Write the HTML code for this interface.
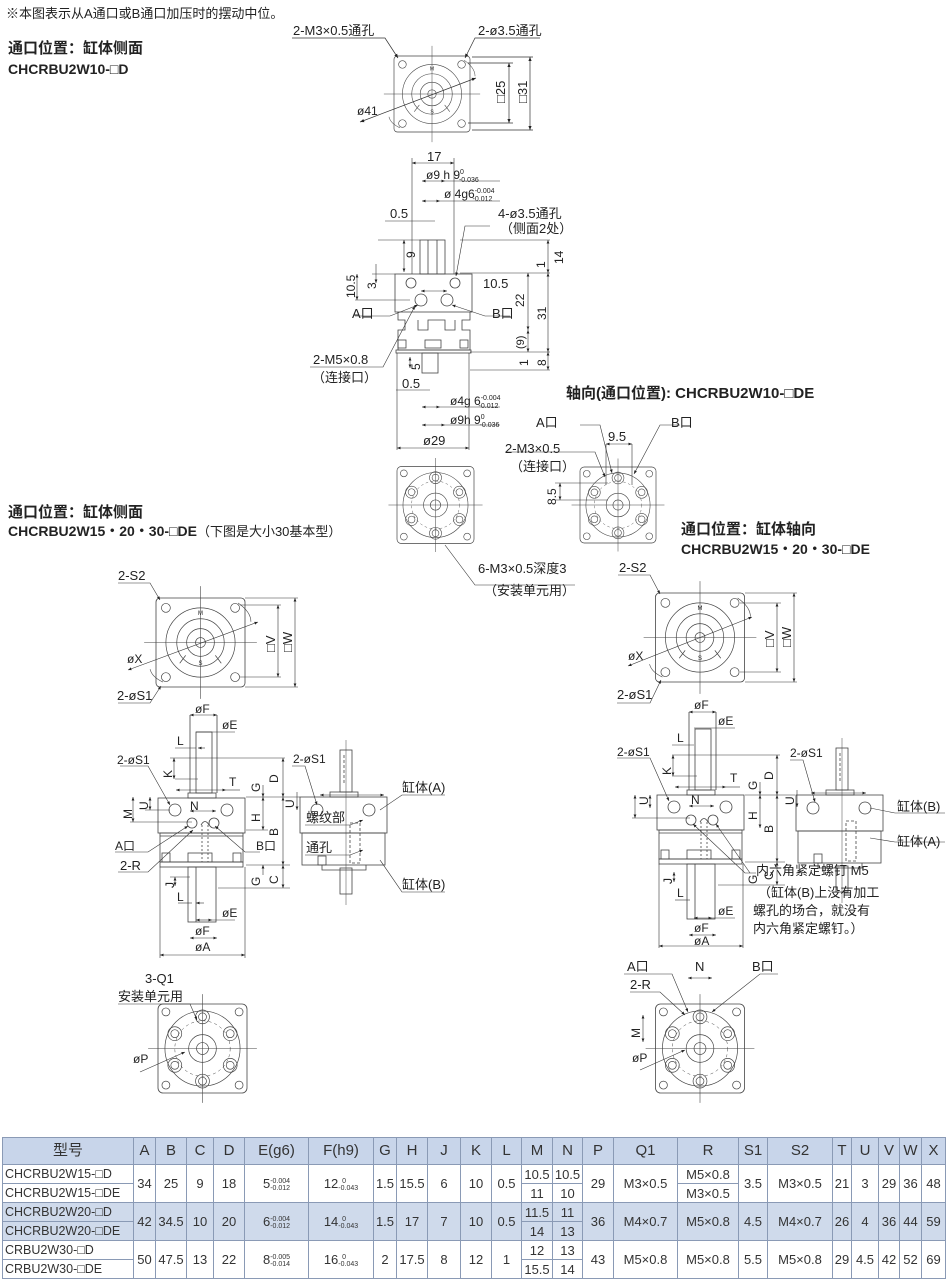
<!DOCTYPE html>
<html><head><meta charset="utf-8">
<style>
html,body{margin:0;padding:0;background:#fff;}
body{width:950px;height:1286px;position:relative;overflow:hidden;font-family:"Liberation Sans","Noto Sans CJK SC",sans-serif;color:#222;}
svg{position:absolute;left:0;top:0;}
svg text{font-family:"Liberation Sans","Noto Sans CJK SC",sans-serif;fill:#222;}
.b{font-weight:bold;}
table{position:absolute;left:2px;top:1137px;border-collapse:collapse;font-size:13px;color:#333;table-layout:fixed;}
td{border:1px solid #8a9ab5;text-align:center;padding:0;height:18px;line-height:17px;white-space:nowrap;overflow:hidden;}
tr.h td{height:26px;line-height:24px;background:#c8d5ea;font-size:15px;}
tr.g td{background:#cfdaeb;}
td.m{text-align:left;padding-left:2px;font-size:12.5px;}
.f{display:inline-block;vertical-align:middle;font-size:7px;line-height:7px;text-align:left;}
</style></head><body>
<svg width="950" height="1286" viewBox="0 0 950 1286">
<defs>
<marker id="a" viewBox="0 0 10 10" refX="10" refY="5" markerWidth="6" markerHeight="6" orient="auto-start-reverse"><path d="M0,1L10,5L0,9z" fill="#222"/></marker>
<symbol id="top" viewBox="0 0 90 90" overflow="visible">
 <rect x="0" y="0" width="90" height="90" rx="4" fill="none" stroke="#444" stroke-width="0.8"/>
 <line x1="45" y1="-12" x2="45" y2="102" stroke="#444" stroke-width="0.6"/>
 <line x1="-12" y1="45" x2="102" y2="45" stroke="#444" stroke-width="0.6"/>
 <circle cx="45" cy="45" r="35" fill="none" stroke="#444" stroke-width="0.7"/>
 <circle cx="45" cy="45" r="24" fill="none" stroke="#444" stroke-width="0.7"/>
 <circle cx="45" cy="45" r="14" fill="none" stroke="#444" stroke-width="0.7"/>
 <circle cx="45" cy="45" r="5" fill="none" stroke="#444" stroke-width="0.7"/>
 <path d="M30,58 L24,66 M60,58 L66,66" stroke="#444" stroke-width="0.7"/>
 <circle cx="10" cy="10" r="4.5" fill="none" stroke="#444" stroke-width="0.7"/>
 <circle cx="80" cy="10" r="4.5" fill="none" stroke="#444" stroke-width="0.7"/>
 <circle cx="10" cy="80" r="4.5" fill="none" stroke="#444" stroke-width="0.7"/>
 <circle cx="80" cy="80" r="4.5" fill="none" stroke="#444" stroke-width="0.7"/>
 <text x="45" y="17" font-size="6" text-anchor="middle">M</text>
 <text x="45" y="68" font-size="6" text-anchor="middle">S</text>
 <path d="M83,5 Q96,14 96,24" fill="none" stroke="#444" stroke-width="0.6"/>
 <path d="M7,85 Q-4,80 -6,72" fill="none" stroke="#444" stroke-width="0.6"/>
</symbol>
<symbol id="bot" viewBox="0 0 90 90" overflow="visible">
 <rect x="0" y="0" width="90" height="90" rx="5" fill="none" stroke="#444" stroke-width="0.8"/>
 <line x1="45" y1="-10" x2="45" y2="100" stroke="#444" stroke-width="0.6"/>
 <line x1="-10" y1="45" x2="100" y2="45" stroke="#444" stroke-width="0.6"/>
 <circle cx="45" cy="45" r="38" fill="none" stroke="#444" stroke-width="0.7"/>
 <circle cx="45" cy="45" r="28" fill="none" stroke="#444" stroke-width="0.5" stroke-dasharray="3,3"/>
 <circle cx="45" cy="45" r="14" fill="none" stroke="#444" stroke-width="0.7"/>
 <circle cx="45" cy="45" r="6" fill="none" stroke="#444" stroke-width="0.7"/>
 <g fill="none" stroke="#444" stroke-width="0.7">
 <circle cx="45" cy="13" r="7"/><circle cx="45" cy="13" r="4"/>
 <circle cx="17" cy="30" r="7"/><circle cx="17" cy="30" r="4"/>
 <circle cx="73" cy="30" r="7"/><circle cx="73" cy="30" r="4"/>
 <circle cx="17" cy="62" r="7"/><circle cx="17" cy="62" r="4"/>
 <circle cx="73" cy="62" r="7"/><circle cx="73" cy="62" r="4"/>
 <circle cx="45" cy="78" r="7"/><circle cx="45" cy="78" r="4"/>
 <circle cx="8" cy="8" r="4"/><circle cx="82" cy="8" r="4"/><circle cx="8" cy="82" r="4"/><circle cx="82" cy="82" r="4"/>
 </g>
</symbol>
<symbol id="front" viewBox="0 0 100 240" overflow="visible">
 <g fill="none" stroke="#444" stroke-width="0.8">
 <rect x="0" y="83" width="87" height="35"/>
 <rect x="2" y="118" width="83" height="29"/>
 <line x1="2" y1="121" x2="85" y2="121"/>
 <rect x="2" y="147" width="83" height="5"/>
 <rect x="4" y="138" width="8" height="9"/><rect x="75" y="138" width="8" height="9"/><rect x="30" y="138" width="24" height="9"/>
 <rect x="30" y="78" width="28" height="5"/>
 <rect x="38" y="17" width="16" height="61"/>
 <line x1="32" y1="0" x2="32" y2="78"/><line x1="59" y1="0" x2="59" y2="78"/>
 <rect x="30" y="152" width="28" height="55"/>
 <line x1="38" y1="152" x2="38" y2="207"/>
 <circle cx="17" cy="95" r="6"/><circle cx="69" cy="95" r="6"/>
 <circle cx="34" cy="108" r="5"/><circle cx="56" cy="108" r="5"/>
 <line x1="44" y1="110" x2="44" y2="147" stroke-dasharray="2,2"/>
 <line x1="50" y1="110" x2="50" y2="147" stroke-dasharray="2,2"/>
 <path d="M43,110 Q47,103 51,110"/>
 </g>
</symbol>
<symbol id="side" viewBox="0 0 100 160" overflow="visible">
 <g fill="none" stroke="#444" stroke-width="0.8">
 <rect x="0" y="47" width="87" height="36"/>
 <rect x="2" y="83" width="83" height="32"/>
 <rect x="30" y="42" width="28" height="5"/>
 <rect x="40" y="0" width="12" height="42"/>
 <line x1="44" y1="5" x2="44" y2="35" stroke-dasharray="3,2"/>
 <rect x="40" y="118" width="12" height="26"/>
 <path d="M22,115 L22,120 L66,120 L66,115"/>
 <circle cx="17" cy="60" r="6"/><circle cx="69" cy="60" r="6"/>
 <rect x="50" y="73" width="10" height="40" stroke-dasharray="3,2"/>
 <rect x="18" y="106" width="8" height="9"/>
 <line x1="46" y1="-10" x2="46" y2="155" stroke-width="0.5"/>
 </g>
</symbol>
</defs>

<g font-size="13">
<text x="6" y="18">※本图表示从A通口或B通口加压时的摆动中位。</text>
<text x="8" y="53" class="b" font-size="15">通口位置：缸体侧面</text>
<text x="8" y="74" class="b" font-size="14">CHCRBU2W10-□D</text>

<use href="#top" x="394" y="56" width="76" height="76"/>
<g stroke="#333" stroke-width="0.7" fill="none">
<line x1="472" y1="57" x2="533" y2="57"/><line x1="472" y1="130" x2="533" y2="130"/>
<line x1="468" y1="63" x2="513" y2="63"/><line x1="468" y1="123" x2="513" y2="123"/>
<line x1="530" y1="57" x2="530" y2="130" marker-start="url(#a)" marker-end="url(#a)"/>
<line x1="509" y1="63" x2="509" y2="123" marker-start="url(#a)" marker-end="url(#a)"/>
<line x1="360" y1="122" x2="476" y2="78" marker-start="url(#a)" marker-end="url(#a)"/>
<polyline points="292,38 385,38 398,58" marker-end="url(#a)"/>
<polyline points="540,38 475,38 465,58" marker-end="url(#a)"/>
</g>
<text x="293" y="35">2-M3×0.5通孔</text>
<text x="478" y="35">2-ø3.5通孔</text>
<text x="357" y="115" font-size="12">ø41</text>
<text transform="translate(505,103) rotate(-90)" font-size="13">□25</text>
<text transform="translate(527,103) rotate(-90)" font-size="13">□31</text>

<g stroke="#444" stroke-width="0.8" fill="none">
<rect x="395" y="274" width="77" height="38"/>
<path d="M398,312 L398,320 L405,320 L405,330 L398,330 L398,350 L470,350 L470,330 L462,330 L462,320 L470,320 L470,312 M418,320 L418,330 L428,330 L428,320 L445,320 L445,330 L455,330 L455,320"/>
<rect x="398" y="340" width="8" height="8"/><rect x="425" y="340" width="16" height="8"/><rect x="460" y="340" width="8" height="8"/>
<rect x="396" y="350" width="75" height="3"/>
<rect x="420" y="240" width="25" height="34"/>
<line x1="428" y1="240" x2="428" y2="274"/><line x1="437" y1="240" x2="437" y2="274"/>
<rect x="422" y="353" width="16" height="20"/>
<circle cx="411" cy="283" r="5"/><circle cx="455" cy="283" r="5"/>
<circle cx="421" cy="300" r="6"/><circle cx="447" cy="300" r="6"/>
</g>
<g stroke="#333" stroke-width="0.6" fill="none">
<line x1="412" y1="158" x2="412" y2="274"/><line x1="454" y1="158" x2="454" y2="274"/>
<line x1="412" y1="163" x2="454" y2="163" marker-start="url(#a)" marker-end="url(#a)"/>
<line x1="422" y1="181" x2="445" y2="181" marker-start="url(#a)" marker-end="url(#a)"/>
<line x1="422" y1="201" x2="440" y2="201" marker-start="url(#a)" marker-end="url(#a)"/>
<line x1="385" y1="221" x2="435" y2="221"/>
<line x1="445" y1="181" x2="500" y2="181"/><line x1="440" y1="201" x2="500" y2="201"/>
<line x1="378" y1="240" x2="420" y2="240"/><line x1="404" y1="240" x2="404" y2="272" marker-start="url(#a)" marker-end="url(#a)"/>
<line x1="372" y1="274" x2="395" y2="274"/><line x1="376" y1="264" x2="376" y2="283" marker-end="url(#a)"/>
<line x1="357" y1="274" x2="357" y2="300" marker-start="url(#a)" marker-end="url(#a)"/><line x1="355" y1="300" x2="410" y2="300"/>
<line x1="421" y1="291" x2="447" y2="291" marker-start="url(#a)" marker-end="url(#a)"/>
<line x1="460" y1="273" x2="550" y2="273"/><line x1="460" y1="240" x2="550" y2="240"/>
<line x1="548" y1="240" x2="548" y2="273" marker-start="url(#a)" marker-end="url(#a)"/>
<line x1="528" y1="273" x2="528" y2="330" marker-start="url(#a)" marker-end="url(#a)"/>
<line x1="548" y1="273" x2="548" y2="352" marker-start="url(#a)" marker-end="url(#a)"/>
<line x1="528" y1="330" x2="528" y2="352" marker-start="url(#a)" marker-end="url(#a)"/>
<line x1="470" y1="352" x2="550" y2="352"/><line x1="470" y1="370" x2="550" y2="370"/>
<line x1="548" y1="352" x2="548" y2="370" marker-start="url(#a)" marker-end="url(#a)"/>
<line x1="410" y1="357" x2="410" y2="368" marker-start="url(#a)" marker-end="url(#a)"/>
<line x1="396" y1="390" x2="430" y2="390"/>
<line x1="422" y1="407" x2="440" y2="407" marker-start="url(#a)" marker-end="url(#a)"/>
<line x1="422" y1="425" x2="445" y2="425" marker-start="url(#a)" marker-end="url(#a)"/>
<line x1="440" y1="407" x2="500" y2="407"/><line x1="445" y1="425" x2="500" y2="425"/>
<line x1="397" y1="353" x2="397" y2="450"/><line x1="469" y1="353" x2="469" y2="450"/>
<line x1="397" y1="448" x2="469" y2="448" marker-start="url(#a)" marker-end="url(#a)"/>
<polyline points="490,226 465,226 456,276" marker-end="url(#a)"/>
<polyline points="355,316 390,316 418,305" marker-end="url(#a)"/>
<polyline points="510,316 485,316 452,305" marker-end="url(#a)"/>
<polyline points="310,367 383,367 415,306" marker-end="url(#a)"/>
</g>
<text x="427" y="161">17</text>
<text x="426" y="179" font-size="12">ø9 h 9<tspan font-size="7" dy="-5">0</tspan><tspan font-size="7" dx="-5" dy="8">-0.036</tspan></text>
<text x="444" y="198" font-size="12">ø 4g6<tspan font-size="7" dy="-5">-0.004</tspan><tspan font-size="7" dx="-22" dy="8">-0.012</tspan></text>
<text x="390" y="218">0.5</text>
<text x="498" y="218">4-ø3.5通孔</text>
<text x="500" y="233">（侧面2处）</text>
<text x="483" y="288">10.5</text>
<text x="352" y="318">A口</text>
<text x="492" y="318">B口</text>
<text x="313" y="364">2-M5×0.8</text>
<text x="312" y="382">（连接口）</text>
<text x="402" y="388">0.5</text>
<text x="450" y="405" font-size="12">ø4g 6<tspan font-size="7" dy="-5">-0.004</tspan><tspan font-size="7" dx="-22" dy="8">-0.012</tspan></text>
<text x="450" y="424" font-size="12">ø9h 9<tspan font-size="7" dy="-5">0</tspan><tspan font-size="7" dx="-5" dy="8">-0.036</tspan></text>
<text x="423" y="445">ø29</text>
<text transform="translate(415,258) rotate(-90)" font-size="12">9</text>
<text transform="translate(376,289) rotate(-90)" font-size="12">3</text>
<text transform="translate(355,298) rotate(-90)" font-size="12">10.5</text>
<text transform="translate(545,268) rotate(-90)" font-size="12">1</text>
<text transform="translate(563,264) rotate(-90)" font-size="12">14</text>
<text transform="translate(524,307) rotate(-90)" font-size="12">22</text>
<text transform="translate(546,320) rotate(-90)" font-size="12">31</text>
<text transform="translate(524,349) rotate(-90)" font-size="11">(9)</text>
<text transform="translate(528,366) rotate(-90)" font-size="12">1</text>
<text transform="translate(546,366) rotate(-90)" font-size="12">8</text>
<text transform="translate(420,370) rotate(-90)" font-size="12">5</text>

<use href="#bot" x="397" y="466" width="77" height="78"/>
<use href="#bot" x="580" y="466" width="76" height="78"/>
<g stroke="#333" stroke-width="0.6" fill="none">
<polyline points="445,545 475,585 575,585"/>
<polyline points="505,452 595,452 605,477" marker-end="url(#a)"/>
<polyline points="580,425 600,425 612,473" marker-end="url(#a)"/>
<polyline points="680,425 660,425 634,474" marker-end="url(#a)"/>
<line x1="606" y1="444" x2="632" y2="444" marker-start="url(#a)" marker-end="url(#a)"/>
<line x1="606" y1="444" x2="606" y2="485"/><line x1="632" y1="444" x2="632" y2="485"/>
<line x1="555" y1="483" x2="608" y2="483"/><line x1="555" y1="500" x2="608" y2="500"/>
<line x1="560" y1="483" x2="560" y2="500" marker-start="url(#a)" marker-end="url(#a)"/>
</g>
<text x="566" y="398" class="b" font-size="15">轴向(通口位置): CHCRBU2W10-□DE</text>
<text x="536" y="427">A口</text>
<text x="671" y="427">B口</text>
<text x="608" y="441">9.5</text>
<text x="505" y="453">2-M3×0.5</text>
<text x="510" y="471">（连接口）</text>
<text transform="translate(556,505) rotate(-90)" font-size="12">8.5</text>
<text x="478" y="573">6-M3×0.5深度3</text>
<text x="484" y="595">（安装单元用）</text>

<text x="8" y="517" class="b" font-size="15">通口位置：缸体侧面</text>
<text x="8" y="536" class="b" font-size="14">CHCRBU2W15・20・30-□DE<tspan font-weight="normal" font-size="13">（下图是大小30基本型）</tspan></text>
<use href="#top" x="156" y="598" width="89" height="89"/>
<g stroke="#333" stroke-width="0.6" fill="none">
<line x1="245" y1="598" x2="298" y2="598"/><line x1="245" y1="687" x2="298" y2="687"/>
<line x1="240" y1="605" x2="281" y2="605"/><line x1="240" y1="677" x2="281" y2="677"/>
<line x1="295" y1="598" x2="295" y2="687" marker-start="url(#a)" marker-end="url(#a)"/>
<line x1="278" y1="605" x2="278" y2="677" marker-start="url(#a)" marker-end="url(#a)"/>
<line x1="128" y1="670" x2="258" y2="622" marker-start="url(#a)" marker-end="url(#a)"/>
<polyline points="118,583 150,583 160,600" marker-end="url(#a)"/>
<polyline points="118,703 150,703 161,686" marker-end="url(#a)"/>
</g>
<text x="118" y="580">2-S2</text>
<text x="117" y="700">2-øS1</text>
<text x="127" y="663" font-size="12">øX</text>
<text transform="translate(275,652) rotate(-90)" font-size="13">□V</text>
<text transform="translate(292,652) rotate(-90)" font-size="13">□W</text>

<use href="#front" x="158" y="715" width="100" height="240"/>
<use href="#side" x="300" y="750" width="100" height="160"/>
<g stroke="#333" stroke-width="0.6" fill="none">
<line x1="190" y1="715" x2="217" y2="715" marker-start="url(#a)" marker-end="url(#a)"/>
<line x1="196" y1="732" x2="212" y2="732"/><line x1="212" y1="732" x2="235" y2="732"/>
<line x1="175" y1="748" x2="196" y2="748"/><line x1="198" y1="748" x2="205" y2="748" marker-start="url(#a)"/>
<line x1="170" y1="758" x2="285" y2="758"/><line x1="175" y1="779" x2="198" y2="779"/>
<line x1="174" y1="758" x2="174" y2="779" marker-start="url(#a)" marker-end="url(#a)"/>
<line x1="176" y1="790" x2="226" y2="790" marker-start="url(#a)" marker-end="url(#a)"/><line x1="226" y1="790" x2="240" y2="790"/>
<line x1="283" y1="758" x2="283" y2="797" marker-start="url(#a)" marker-end="url(#a)"/>
<line x1="283" y1="797" x2="283" y2="865" marker-start="url(#a)" marker-end="url(#a)"/>
<line x1="283" y1="865" x2="283" y2="888" marker-start="url(#a)" marker-end="url(#a)"/>
<line x1="263" y1="785" x2="263" y2="797" marker-end="url(#a)"/>
<line x1="263" y1="797" x2="263" y2="830" marker-start="url(#a)" marker-end="url(#a)"/>
<line x1="246" y1="797" x2="300" y2="797"/><line x1="246" y1="865" x2="290" y2="865"/><line x1="218" y1="888" x2="290" y2="888"/>
<line x1="246" y1="830" x2="268" y2="830"/>
<line x1="263" y1="865" x2="263" y2="875" marker-start="url(#a)"/>
<line x1="150" y1="797" x2="150" y2="810" marker-start="url(#a)" marker-end="url(#a)"/>
<line x1="133" y1="797" x2="133" y2="822" marker-start="url(#a)" marker-end="url(#a)"/>
<line x1="130" y1="822" x2="192" y2="822"/><line x1="145" y1="810" x2="170" y2="810"/>
<line x1="190" y1="811" x2="216" y2="811" marker-start="url(#a)" marker-end="url(#a)"/>
<line x1="175" y1="877" x2="175" y2="886" marker-start="url(#a)" marker-end="url(#a)"/>
<line x1="170" y1="877" x2="190" y2="877"/>
<line x1="178" y1="903" x2="192" y2="903"/><line x1="196" y1="903" x2="204" y2="903" marker-start="url(#a)"/>
<line x1="196" y1="920" x2="212" y2="920" marker-start="url(#a)" marker-end="url(#a)"/><line x1="212" y1="920" x2="235" y2="920"/>
<line x1="190" y1="938" x2="217" y2="938" marker-start="url(#a)" marker-end="url(#a)"/>
<line x1="160" y1="867" x2="160" y2="958"/><line x1="245" y1="867" x2="245" y2="958"/>
<line x1="160" y1="955" x2="245" y2="955" marker-start="url(#a)" marker-end="url(#a)"/>
<polyline points="120,766 148,766 170,805" marker-end="url(#a)"/>
<polyline points="115,852 148,852 188,826" marker-end="url(#a)"/>
<polyline points="118,872 148,872 193,830" marker-end="url(#a)"/>
<polyline points="260,852 245,852 215,826" marker-end="url(#a)"/>
<line x1="320" y1="795" x2="384" y2="795" marker-start="url(#a)" marker-end="url(#a)"/>
<line x1="297" y1="792" x2="297" y2="810" marker-end="url(#a)"/>
<polyline points="292,766 305,766 317,805" marker-end="url(#a)"/>
<polyline points="445,795 402,795 380,810"/>
<polyline points="445,892 402,892 380,860"/>
<polyline points="305,825 350,825 363,820" marker-end="url(#a)"/>
<polyline points="305,855 350,855 363,850" marker-end="url(#a)"/>
</g>
<text x="195" y="713" font-size="12">øF</text>
<text x="222" y="729" font-size="12">øE</text>
<text x="177" y="745" font-size="12">L</text>
<text x="117" y="764" font-size="12">2-øS1</text>
<text transform="translate(172,778) rotate(-90)" font-size="12">K</text>
<text x="229" y="786" font-size="12">T</text>
<text transform="translate(278,783) rotate(-90)" font-size="12">D</text>
<text transform="translate(260,792) rotate(-90)" font-size="12">G</text>
<text transform="translate(260,822) rotate(-90)" font-size="12">H</text>
<text transform="translate(278,836) rotate(-90)" font-size="12">B</text>
<text transform="translate(260,886) rotate(-90)" font-size="12">G</text>
<text transform="translate(278,884) rotate(-90)" font-size="12">C</text>
<text transform="translate(294,808) rotate(-90)" font-size="12">U</text>
<text transform="translate(148,810) rotate(-90)" font-size="12">U</text>
<text transform="translate(132,819) rotate(-90)" font-size="12">M</text>
<text x="190" y="810" font-size="12">N</text>
<text x="115" y="850" font-size="12">A口</text>
<text x="256" y="850" font-size="12">B口</text>
<text x="120" y="870">2-R</text>
<text transform="translate(174,888) rotate(-90)" font-size="12">J</text>
<text x="177" y="901" font-size="12">L</text>
<text x="222" y="917" font-size="12">øE</text>
<text x="195" y="935" font-size="12">øF</text>
<text x="195" y="951" font-size="12">øA</text>
<text x="293" y="763" font-size="12">2-øS1</text>
<text x="402" y="792">缸体(A)</text>
<text x="306" y="822">螺纹部</text>
<text x="306" y="852">通孔</text>
<text x="402" y="889">缸体(B)</text>

<text x="145" y="983">3-Q1</text>
<text x="118" y="1001">安装单元用</text>
<use href="#bot" x="158" y="1004" width="89" height="89"/>
<g stroke="#333" stroke-width="0.6" fill="none">
<polyline points="118,1004 190,1004 197,1020" marker-end="url(#a)"/>
<line x1="140" y1="1072" x2="185" y2="1052" marker-end="url(#a)"/>
</g>
<text x="133" y="1063" font-size="12">øP</text>

<text x="681" y="534" class="b" font-size="15">通口位置：缸体轴向</text>
<text x="681" y="554" class="b" font-size="14">CHCRBU2W15・20・30-□DE</text>
<use href="#top" x="655" y="593" width="90" height="89"/>
<g stroke="#333" stroke-width="0.6" fill="none">
<line x1="745" y1="593" x2="797" y2="593"/><line x1="745" y1="682" x2="797" y2="682"/>
<line x1="740" y1="603" x2="781" y2="603"/><line x1="740" y1="672" x2="781" y2="672"/>
<line x1="794" y1="593" x2="794" y2="682" marker-start="url(#a)" marker-end="url(#a)"/>
<line x1="777" y1="603" x2="777" y2="672" marker-start="url(#a)" marker-end="url(#a)"/>
<line x1="628" y1="666" x2="752" y2="617" marker-start="url(#a)" marker-end="url(#a)"/>
<polyline points="618,575 650,575 660,594" marker-end="url(#a)"/>
<polyline points="617,703 650,703 661,680" marker-end="url(#a)"/>
</g>
<text x="619" y="572">2-S2</text>
<text x="617" y="699">2-øS1</text>
<text x="628" y="660" font-size="12">øX</text>
<text transform="translate(774,647) rotate(-90)" font-size="13">□V</text>
<text transform="translate(791,647) rotate(-90)" font-size="13">□W</text>

<use href="#front" x="657" y="712" width="100" height="240"/>
<use href="#side" x="796" y="748" width="100" height="160"/>
<g stroke="#333" stroke-width="0.6" fill="none">
<line x1="689" y1="712" x2="716" y2="712" marker-start="url(#a)" marker-end="url(#a)"/>
<line x1="711" y1="728" x2="735" y2="728"/><line x1="694" y1="728" x2="711" y2="728"/>
<line x1="672" y1="745" x2="694" y2="745"/>
<line x1="672" y1="755" x2="780" y2="755"/><line x1="672" y1="776" x2="697" y2="776"/>
<line x1="673" y1="755" x2="673" y2="776" marker-start="url(#a)" marker-end="url(#a)"/>
<line x1="675" y1="787" x2="726" y2="787" marker-start="url(#a)" marker-end="url(#a)"/><line x1="726" y1="787" x2="740" y2="787"/>
<line x1="777" y1="755" x2="777" y2="795" marker-start="url(#a)" marker-end="url(#a)"/>
<line x1="777" y1="795" x2="777" y2="862" marker-start="url(#a)" marker-end="url(#a)"/>
<line x1="777" y1="862" x2="777" y2="885" marker-start="url(#a)" marker-end="url(#a)"/>
<line x1="760" y1="782" x2="760" y2="795" marker-end="url(#a)"/>
<line x1="760" y1="795" x2="760" y2="828" marker-start="url(#a)" marker-end="url(#a)"/>
<line x1="745" y1="795" x2="795" y2="795"/><line x1="745" y1="862" x2="785" y2="862"/><line x1="718" y1="885" x2="785" y2="885"/>
<line x1="650" y1="795" x2="650" y2="808" marker-start="url(#a)" marker-end="url(#a)"/>
<line x1="635" y1="795" x2="635" y2="818" marker-start="url(#a)" marker-end="url(#a)"/>
<line x1="632" y1="818" x2="690" y2="818"/>
<line x1="689" y1="806" x2="714" y2="806" marker-start="url(#a)" marker-end="url(#a)"/>
<line x1="674" y1="872" x2="674" y2="882" marker-start="url(#a)" marker-end="url(#a)"/>
<line x1="675" y1="900" x2="690" y2="900"/>
<line x1="694" y1="918" x2="712" y2="918" marker-start="url(#a)" marker-end="url(#a)"/><line x1="712" y1="918" x2="735" y2="918"/>
<line x1="689" y1="935" x2="716" y2="935" marker-start="url(#a)" marker-end="url(#a)"/>
<line x1="659" y1="864" x2="659" y2="948"/><line x1="743" y1="864" x2="743" y2="948"/>
<line x1="659" y1="946" x2="743" y2="946" marker-start="url(#a)" marker-end="url(#a)"/>
<polyline points="617,758 650,758 669,801" marker-end="url(#a)"/>
<polyline points="756,873 745,873 693,824" marker-end="url(#a)"/>
<line x1="750" y1="873" x2="716" y2="824" marker-end="url(#a)"/>
<line x1="811" y1="793" x2="866" y2="793" marker-start="url(#a)" marker-end="url(#a)"/>
<line x1="797" y1="790" x2="797" y2="807" marker-end="url(#a)"/>
<polyline points="790,760 803,760 815,802" marker-end="url(#a)"/>
<polyline points="945,813 895,813 870,808"/>
<polyline points="945,842 895,842 870,838"/>
</g>
<text x="694" y="709" font-size="12">øF</text>
<text x="718" y="725" font-size="12">øE</text>
<text x="677" y="742" font-size="12">L</text>
<text x="617" y="756" font-size="12">2-øS1</text>
<text transform="translate(671,775) rotate(-90)" font-size="12">K</text>
<text x="730" y="782" font-size="12">T</text>
<text transform="translate(773,780) rotate(-90)" font-size="12">D</text>
<text transform="translate(757,790) rotate(-90)" font-size="12">G</text>
<text transform="translate(757,820) rotate(-90)" font-size="12">H</text>
<text transform="translate(773,833) rotate(-90)" font-size="12">B</text>
<text transform="translate(757,884) rotate(-90)" font-size="12">G</text>
<text transform="translate(773,880) rotate(-90)" font-size="12">C</text>
<text transform="translate(648,805) rotate(-90)" font-size="12">U</text>
<text transform="translate(794,805) rotate(-90)" font-size="12">U</text>
<text x="691" y="804" font-size="12">N</text>
<text transform="translate(672,884) rotate(-90)" font-size="12">J</text>
<text x="677" y="897" font-size="12">L</text>
<text x="718" y="915" font-size="12">øE</text>
<text x="694" y="932" font-size="12">øF</text>
<text x="694" y="945" font-size="12">øA</text>
<text x="790" y="757" font-size="12">2-øS1</text>
<text x="897" y="811">缸体(B)</text>
<text x="897" y="846">缸体(A)</text>
<text x="756" y="875">内六角紧定螺钉 M5</text>
<text x="758" y="897">（缸体(B)上没有加工</text>
<text x="753" y="915">螺孔的场合，就没有</text>
<text x="753" y="933">内六角紧定螺钉。）</text>

<use href="#bot" x="655" y="1004" width="90" height="89"/>
<g stroke="#333" stroke-width="0.6" fill="none">
<polyline points="624,974 672,974 688,1012" marker-end="url(#a)"/>
<polyline points="778,974 760,974 712,1012" marker-end="url(#a)"/>
<line x1="688" y1="978" x2="712" y2="978" marker-start="url(#a)" marker-end="url(#a)"/>
<polyline points="630,992 660,992 685,1015" marker-end="url(#a)"/>
<line x1="643" y1="1015" x2="643" y2="1042" marker-start="url(#a)" marker-end="url(#a)"/>
<line x1="640" y1="1070" x2="685" y2="1050" marker-end="url(#a)"/>
</g>
<text x="627" y="971">A口</text>
<text x="695" y="971">N</text>
<text x="752" y="971">B口</text>
<text x="630" y="989">2-R</text>
<text transform="translate(640,1038) rotate(-90)" font-size="12">M</text>
<text x="632" y="1062" font-size="12">øP</text>
</g>
</svg>

<table>
<colgroup><col style="width:131px"><col style="width:22px"><col style="width:31px"><col style="width:27px"><col style="width:31px"><col style="width:64px"><col style="width:65px"><col style="width:23px"><col style="width:31px"><col style="width:33px"><col style="width:31px"><col style="width:30px"><col style="width:31px"><col style="width:30px"><col style="width:31px"><col style="width:64px"><col style="width:61px"><col style="width:29px"><col style="width:65px"><col style="width:19px"><col style="width:27px"><col style="width:21px"><col style="width:22px"><col style="width:24px"></colgroup>
<tr class="h"><td>型号</td><td>A</td><td>B</td><td>C</td><td>D</td><td>E(g6)</td><td>F(h9)</td><td>G</td><td>H</td><td>J</td><td>K</td><td>L</td><td>M</td><td>N</td><td>P</td><td>Q1</td><td>R</td><td>S1</td><td>S2</td><td>T</td><td>U</td><td>V</td><td>W</td><td>X</td></tr>
<tr><td class="m">CHCRBU2W15-□D</td><td rowspan="2">34</td><td rowspan="2">25</td><td rowspan="2">9</td><td rowspan="2">18</td><td rowspan="2">5<span class="f">-0.004<br>-0.012</span></td><td rowspan="2">12<span class="f">&nbsp;&nbsp;0<br>-0.043</span></td><td rowspan="2">1.5</td><td rowspan="2">15.5</td><td rowspan="2">6</td><td rowspan="2">10</td><td rowspan="2">0.5</td><td>10.5</td><td>10.5</td><td rowspan="2">29</td><td rowspan="2">M3×0.5</td><td>M5×0.8</td><td rowspan="2">3.5</td><td rowspan="2">M3×0.5</td><td rowspan="2">21</td><td rowspan="2">3</td><td rowspan="2">29</td><td rowspan="2">36</td><td rowspan="2">48</td></tr>
<tr><td class="m">CHCRBU2W15-□DE</td><td>11</td><td>10</td><td>M3×0.5</td></tr>
<tr class="g"><td class="m">CHCRBU2W20-□D</td><td rowspan="2">42</td><td rowspan="2">34.5</td><td rowspan="2">10</td><td rowspan="2">20</td><td rowspan="2">6<span class="f">-0.004<br>-0.012</span></td><td rowspan="2">14<span class="f">&nbsp;&nbsp;0<br>-0.043</span></td><td rowspan="2">1.5</td><td rowspan="2">17</td><td rowspan="2">7</td><td rowspan="2">10</td><td rowspan="2">0.5</td><td>11.5</td><td>11</td><td rowspan="2">36</td><td rowspan="2">M4×0.7</td><td rowspan="2">M5×0.8</td><td rowspan="2">4.5</td><td rowspan="2">M4×0.7</td><td rowspan="2">26</td><td rowspan="2">4</td><td rowspan="2">36</td><td rowspan="2">44</td><td rowspan="2">59</td></tr>
<tr class="g"><td class="m">CHCRBU2W20-□DE</td><td>14</td><td>13</td></tr>
<tr><td class="m">CRBU2W30-□D</td><td rowspan="2">50</td><td rowspan="2">47.5</td><td rowspan="2">13</td><td rowspan="2">22</td><td rowspan="2">8<span class="f">-0.005<br>-0.014</span></td><td rowspan="2">16<span class="f">&nbsp;&nbsp;0<br>-0.043</span></td><td rowspan="2">2</td><td rowspan="2">17.5</td><td rowspan="2">8</td><td rowspan="2">12</td><td rowspan="2">1</td><td>12</td><td>13</td><td rowspan="2">43</td><td rowspan="2">M5×0.8</td><td rowspan="2">M5×0.8</td><td rowspan="2">5.5</td><td rowspan="2">M5×0.8</td><td rowspan="2">29</td><td rowspan="2">4.5</td><td rowspan="2">42</td><td rowspan="2">52</td><td rowspan="2">69</td></tr>
<tr><td class="m">CRBU2W30-□DE</td><td>15.5</td><td>14</td></tr>
</table>
</body></html>
